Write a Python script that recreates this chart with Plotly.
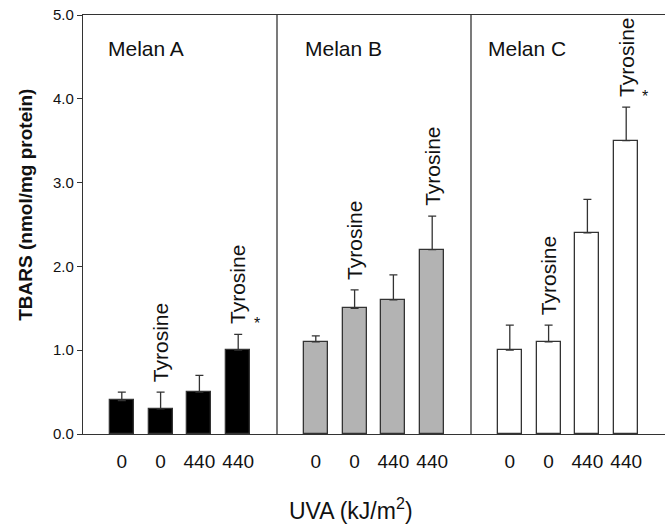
import plotly.graph_objects as go

# ---- data ----
panels = ["Melan A", "Melan B", "Melan C"]
uva_labels = ["0", "0", "440", "440"]
tyrosine = [False, True, False, True]
melan_a = [0.40, 0.30, 0.50, 1.00]
melan_a_err = [0.10, 0.20, 0.20, 0.19]
melan_b = [1.10, 1.50, 1.60, 2.20]
melan_b_err = [0.07, 0.22, 0.30, 0.40]
melan_c = [1.00, 1.10, 2.40, 3.50]
melan_c_err = [0.30, 0.20, 0.40, 0.40]
significant = [[False, False, False, True], [False, False, False, False], [False, False, False, True]]

values = [melan_a, melan_b, melan_c]
errors = [melan_a_err, melan_b_err, melan_c_err]
fills = ["#000000", "#b3b3b3", "#ffffff"]
line_col = "#333333"
font_family = "Liberation Sans, Arial, sans-serif"

fig = go.Figure()
tickvals, ticktext = [], []
annotations = []
for p, name in enumerate(panels):
    xs = [p * 5 + i for i in range(4)]
    tickvals += xs
    ticktext += uva_labels
    fig.add_trace(go.Bar(
        x=xs, y=values[p], width=0.62,
        marker=dict(color=fills[p], line=dict(color=line_col, width=1.3)),
        error_y=dict(type="data", symmetric=False, array=errors[p],
                     arrayminus=[0] * 4, color=line_col, thickness=1.3, width=4),
        showlegend=False, hoverinfo="skip",
    ))
    # panel label
    annotations.append(dict(x=p * 5 - 1, y=4.6, xref="x", yref="y", text=name,
                            showarrow=False, xanchor="left", yanchor="middle",
                            xshift=[23, 26, 15][p],
                            font=dict(size=21, color="#111", family=font_family)))
    for i in range(4):
        top = values[p][i] + errors[p][i]
        if tyrosine[i]:
            annotations.append(dict(x=xs[i], y=top, xref="x", yref="y", text="Tyrosine",
                                    textangle=-90, showarrow=False, xanchor="center",
                                    yanchor="bottom", yshift=8,
                                    font=dict(size=21, color="#111", family=font_family)))
        if significant[p][i]:
            annotations.append(dict(x=xs[i], y=top, xref="x", yref="y", text="*",
                                    showarrow=False, xanchor="center", yanchor="bottom",
                                    xshift=19, yshift=0,
                                    font=dict(size=16, color="#111", family=font_family)))

# panel dividers
for xd in [4, 9]:
    fig.add_shape(type="line", x0=xd, x1=xd, y0=0, y1=5, xref="x", yref="y",
                  line=dict(color=line_col, width=1.3))

annotations.append(dict(x=(287 - 83) / 582, y=-0.18, xref="paper", yref="paper",
                        text="UVA (kJ/m<sup>2</sup>)", showarrow=False,
                        xanchor="left", yanchor="middle",
                        font=dict(size=23, color="#111", family=font_family)))
annotations.append(dict(x=-0.098, y=0.547, xref="paper", yref="paper",
                        text="<b>TBARS (nmol/mg protein)</b>", textangle=-90,
                        showarrow=False, xanchor="center", yanchor="middle",
                        font=dict(size=19, color="#111", family=font_family)))

fig.update_layout(
    width=665, height=529,
    margin=dict(l=83, r=0, t=15, b=95),
    paper_bgcolor="white", plot_bgcolor="white",
    font=dict(family=font_family, color="#111"),
    annotations=annotations,
    bargap=0,
)
fig.update_xaxes(range=[-1, 14], tickvals=tickvals, ticktext=ticktext,
                 ticks="", showgrid=False, zeroline=False,
                 showline=True, linecolor=line_col, linewidth=1.3, mirror=True,
                 tickfont=dict(size=19, color="#111"), ticklabelstandoff=10)
fig.update_yaxes(range=[0, 5], tickvals=[0, 1, 2, 3, 4, 5], tickformat=".1f",
                 ticks="outside", ticklen=5, tickcolor=line_col, tickwidth=1.3,
                 showgrid=False, zeroline=False,
                 showline=True, linecolor=line_col, linewidth=1.3,
                 tickfont=dict(size=15, color="#111"))

fig.write_html("out.html")
